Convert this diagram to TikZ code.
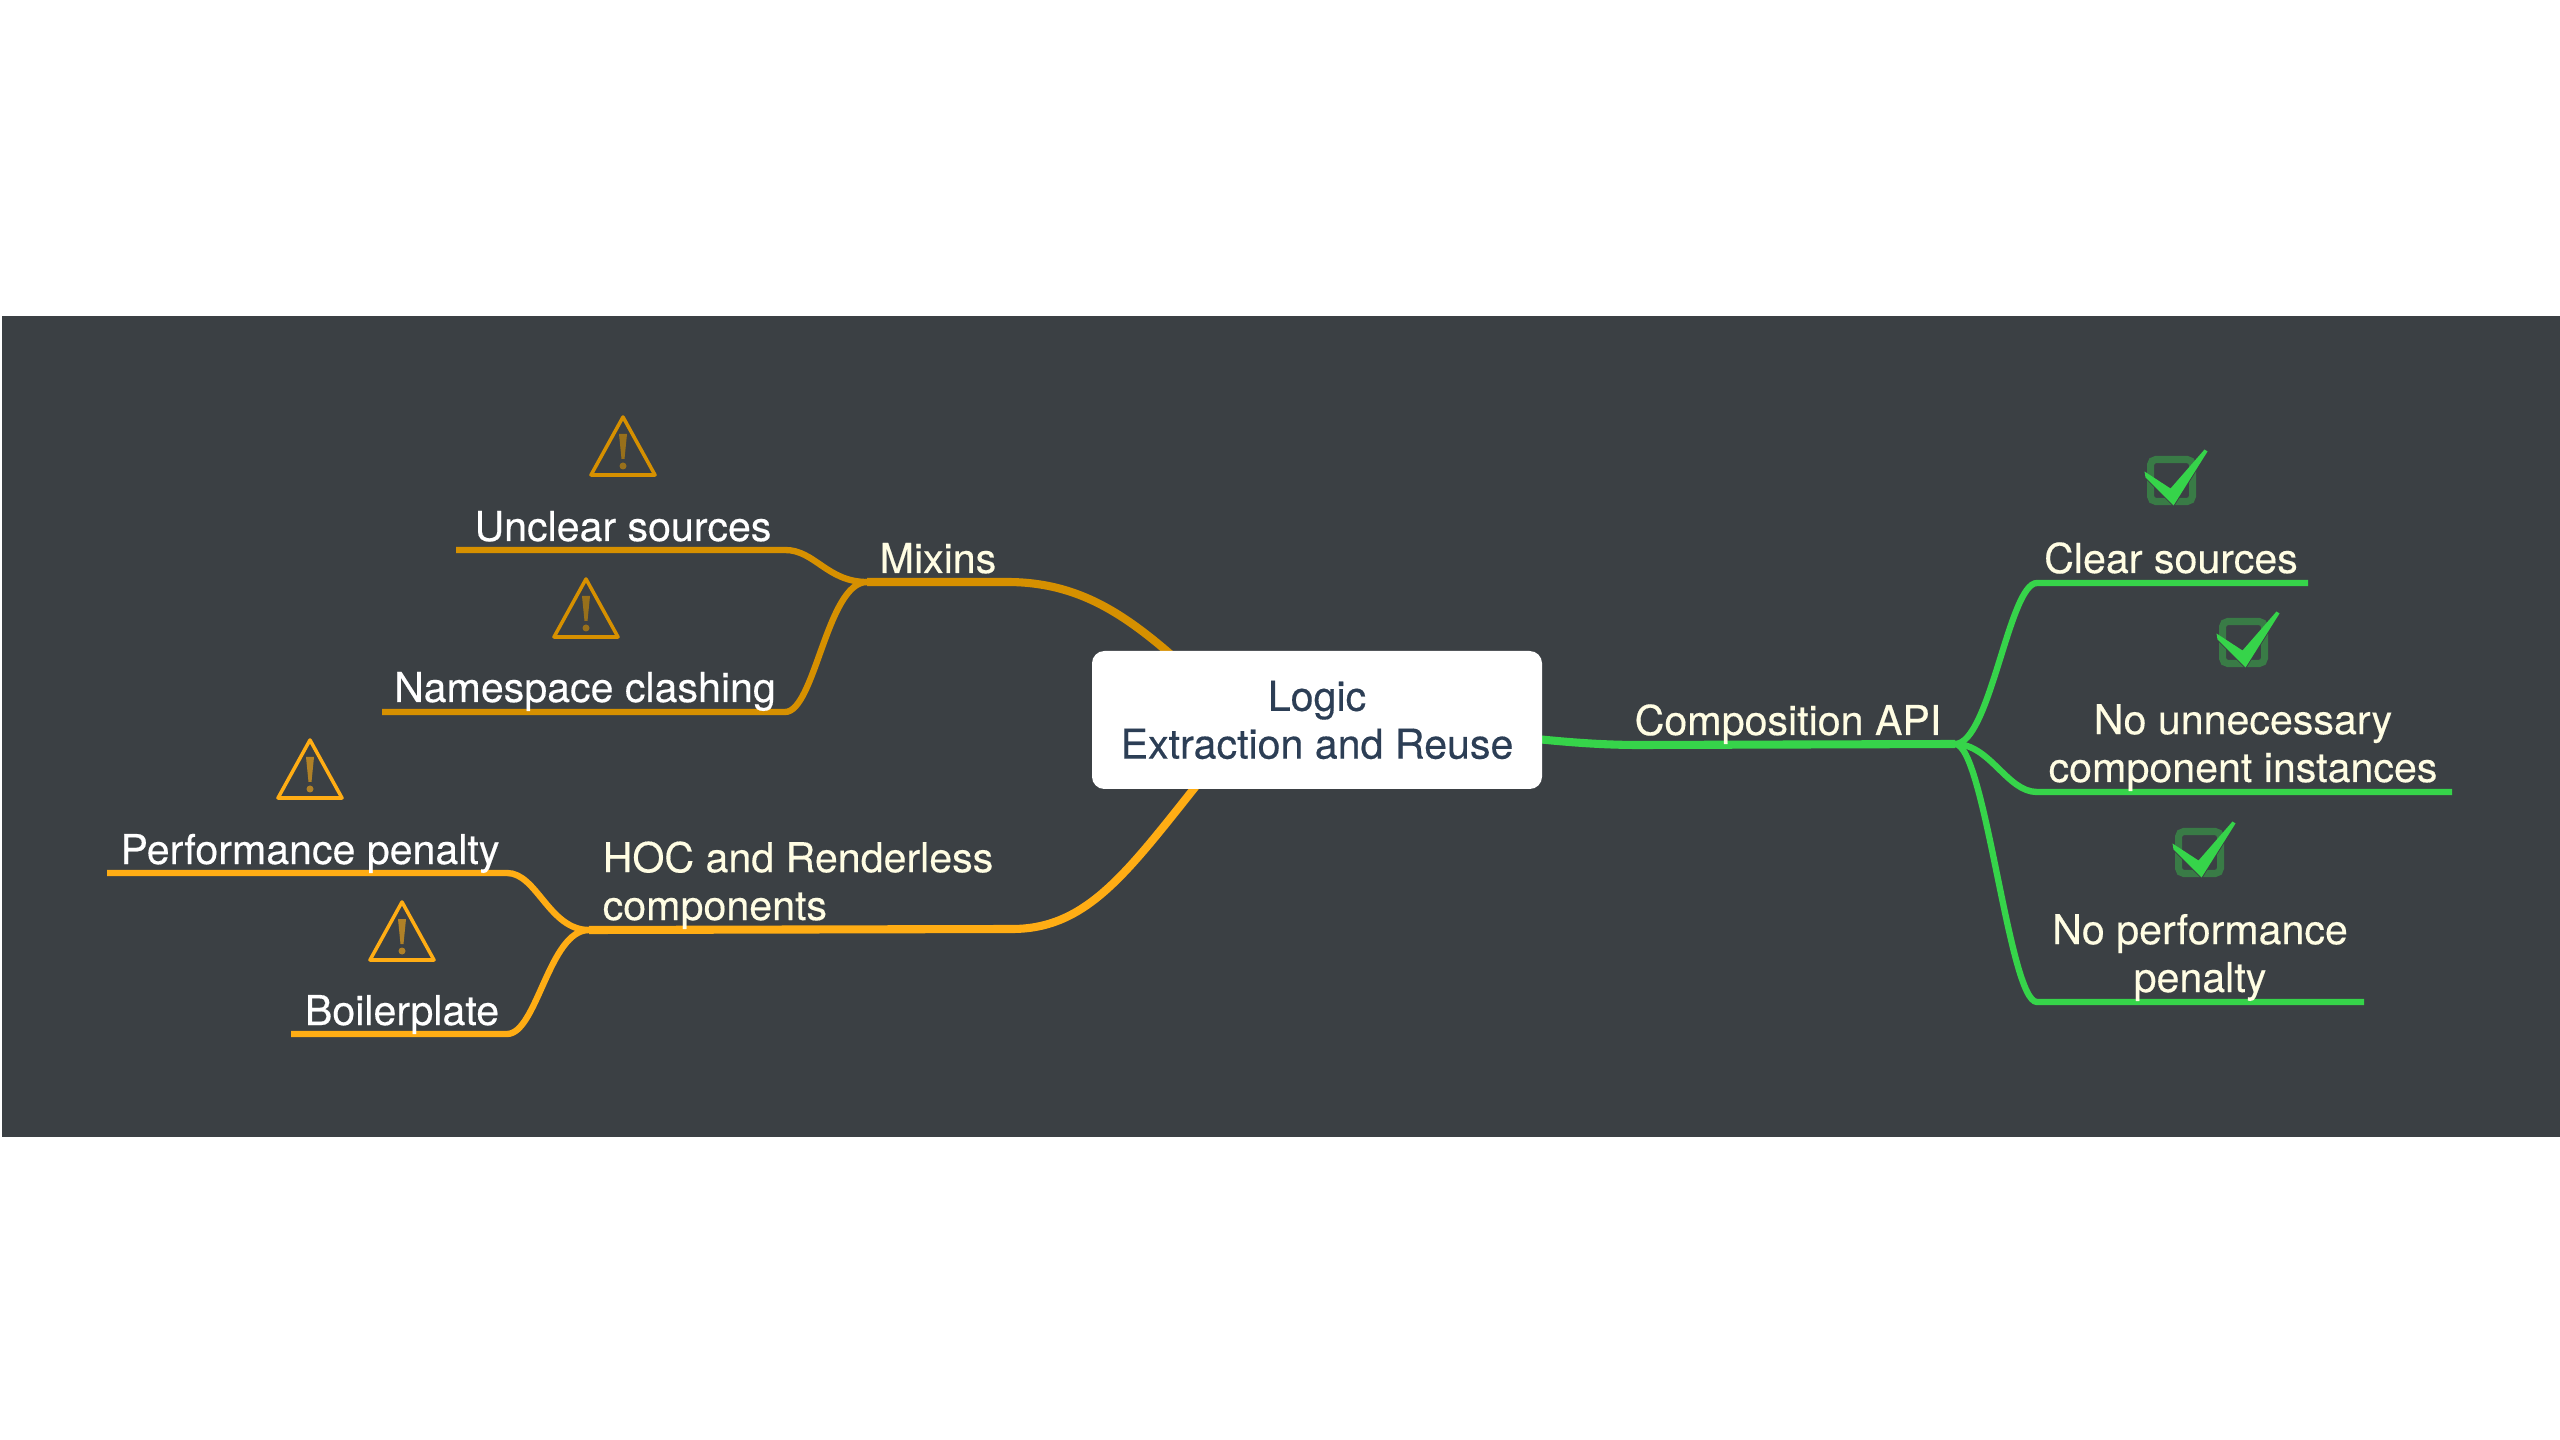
\documentclass[tikz,border=0pt]{standalone}
\usepackage{fontspec}
\setmainfont{TeX Gyre Heros}[FakeBold=0.35]
\pgfdeclarelayer{back}
\pgfsetlayers{back,main}
\definecolor{panelcol}{HTML}{3B4044}
\definecolor{mixincol}{HTML}{D69000}
\definecolor{hoccol}{HTML}{FFAD14}
\definecolor{compcol}{HTML}{36D44A}
\definecolor{creamcol}{HTML}{FFFDE3}
\definecolor{navycol}{HTML}{2C3E55}
\tikzset{
	warn/.pic={
		\draw[#1,line width=1pt,line join=round] (0,3) -- (32,61) -- (-32,61) -- cycle;
		\fill[#1,opacity=0.6] (-4,20) -- (4,20) -- (1.5,45) -- (-1.5,45) -- cycle;
		\fill[#1,opacity=0.6] (0,52) circle (3.5);
	},
	tick/.pic={
		\draw[compcol!40!panelcol,line width=2pt,rounded corners=1.5pt] (-21,-21) rectangle (21,21);
		\draw[panelcol,line width=0.5pt] (2,25) -- (36,-29);
		\draw[panelcol,line width=0.5pt] (2,25) -- (-26,-3);
		\fill[compcol] (-27,-9) -- (-1,8) -- (33,-31) -- (36,-29) -- (2,25) -- (-26,-3) -- cycle;
	}
}
\begin{document}
\begin{tikzpicture}[x=0.01cm,y=-0.01cm,line cap=round,
	main node/.style={fill=white,rounded corners=3.5pt,minimum width=450*0.01cm,minimum height=138*0.01cm,inner sep=0pt,text=navycol,align=center,font=\fontsize{11.7}{13.6}\selectfont},
	topic/.style={inner sep=0pt,anchor=base,text=creamcol,align=center,font=\fontsize{11.7}{13.6}\selectfont},
	leaf/.style={topic,text=white},
	main line/.style={line width=2.3pt},
	sub line/.style={line width=1.8pt}]
	\useasboundingbox (0,0) rectangle (2560,1440);
	\begin{pgfonlayer}{back}
	\fill[white] (0,0) rectangle (2560,1440);
	\fill[panelcol] (2,316) rectangle (2560,1137);
	\end{pgfonlayer}
	\node[main node] (logic) at (1317,720) {Logic\\Extraction and Reuse};

	\node[topic] (mixins) at (938,573) {Mixins};
	\node[leaf] (unclear) at (623,541) {Unclear sources};
	\node[leaf] (namespace) at (585,702) {Namespace clashing};
	\node[topic,align=left,anchor=base west] (hoc) at (602,920) {HOC and Renderless\\components};
	\node[leaf] (perf) at (310,864) {Performance penalty};
	\node[leaf] (boiler) at (402,1025) {Boilerplate};
	\node[topic] (comp) at (1788,735) {Composition API};
	\node[topic] (clear) at (2171,573) {Clear sources};
	\node[topic] (instances) at (2243,782) {No unnecessary\\component instances};
	\node[topic] (noperf) at (2200,992) {No performance\\penalty};

	\pic at (623,414) {warn=mixincol};
	\pic at (586,576) {warn=mixincol};
	\pic at (310,737) {warn=hoccol};
	\pic at (402,899) {warn=hoccol};
	\pic at (2171.5,480.5) {tick};
	\pic at (2243.5,642.5) {tick};
	\pic at (2199.5,852.5) {tick};

	\coordinate (mixinsfork) at (867,582);
	\coordinate (hocfork) at (589,930);
	\coordinate (compfork) at (1955,744);

	\begin{pgfonlayer}{back}
	\draw[mixincol,main line] (logic.center) ++(-107,-30) .. controls (1140,625) and (1090,582) .. (1007,582) -- (mixinsfork);
	\draw[mixincol,sub line] (mixinsfork) .. controls +(-40,0) and +(30,0) .. (785,550) -- (456,550);
	\draw[mixincol,sub line] (mixinsfork) .. controls +(-40,0) and +(30,0) .. (785,712) -- (382,712);
	\draw[hoccol,main line] (logic.center) ++(-92,30) .. controls (1135,860) and (1095,929) .. (1012,929) -- (hocfork);
	\draw[hoccol,sub line] (hocfork) .. controls +(-40,0) and +(30,0) .. (507,873) -- (107,873);
	\draw[hoccol,sub line] (hocfork) .. controls +(-40,0) and +(30,0) .. (507,1034) -- (291,1034);
	\draw[compcol,main line] (logic.center) ++(183,15) .. controls (1560,742) and (1600,745) .. (1640,745) -- (compfork);
	\draw[compcol,sub line] (compfork) .. controls +(35,0) and +(-28,0) .. (2037,583) -- (2308,583);
	\draw[compcol,sub line] (compfork) .. controls +(35,0) and +(-30,0) .. (2037,792) -- (2452,792);
	\draw[compcol,sub line] (compfork) .. controls +(30,0) and +(-28,0) .. (2037,1002) -- (2364,1002);
	\end{pgfonlayer}
\end{tikzpicture}
\end{document}
